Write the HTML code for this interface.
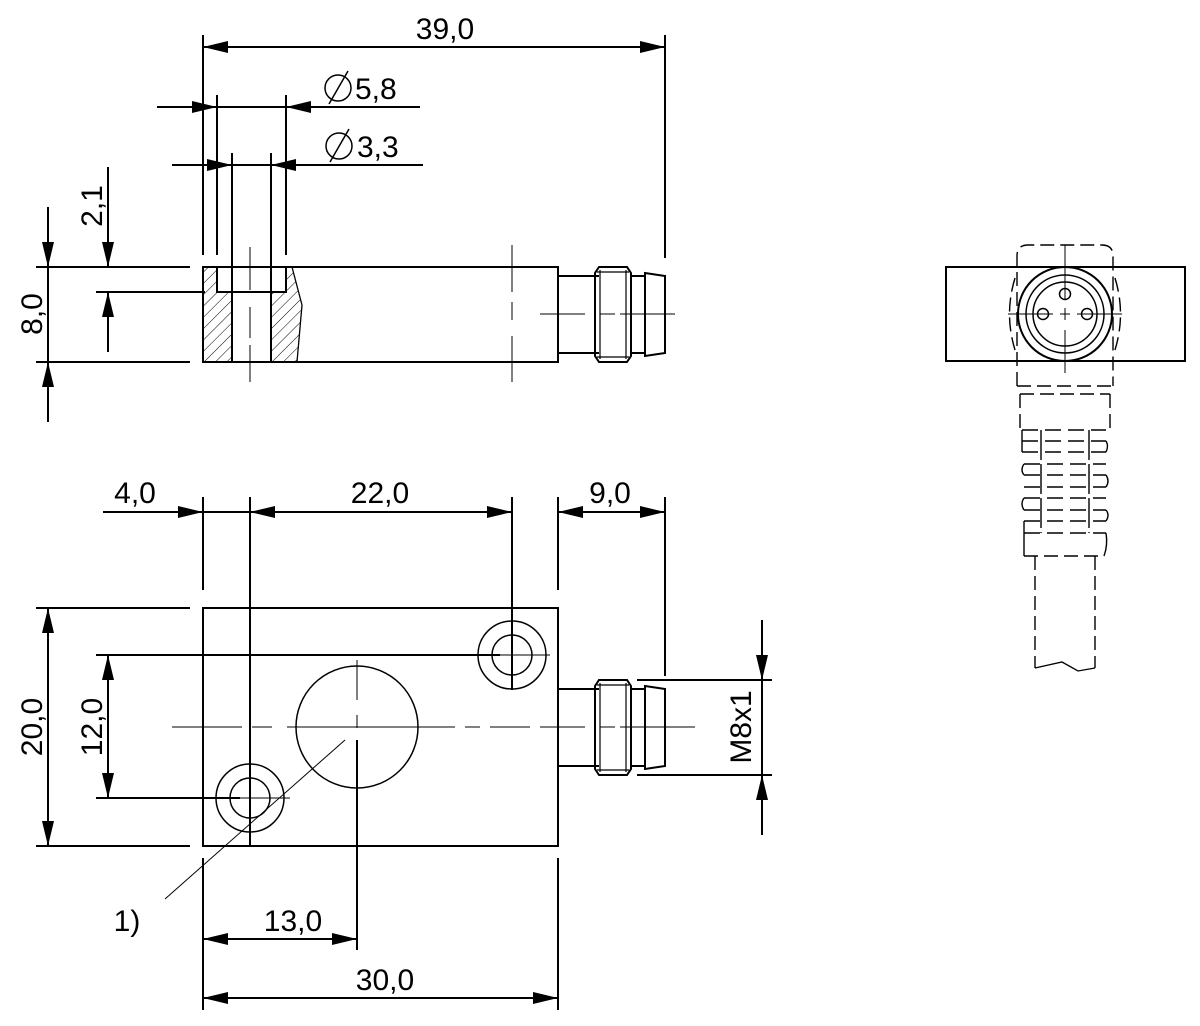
<!DOCTYPE html>
<html><head><meta charset="utf-8"><style>
html,body{margin:0;padding:0;background:#fff;}
svg{display:block;}
text{font-family:"Liberation Sans",Arial,sans-serif;font-size:30px;fill:#000;}
</style></head><body>
<svg width="1200" height="1026" viewBox="0 0 1200 1026" xmlns="http://www.w3.org/2000/svg">
<defs>
<marker id="a" markerUnits="userSpaceOnUse" markerWidth="26" markerHeight="14" refX="25" refY="6" orient="auto-start-reverse">
<path d="M0,0 L25,6 L0,12 z" fill="#000"/></marker>
<pattern id="h" patternUnits="userSpaceOnUse" width="8" height="8" patternTransform="rotate(45)">
<line x1="0" y1="0" x2="0" y2="8" stroke="#000" stroke-width="1"/></pattern>
</defs>
<g stroke="#000" stroke-width="2" fill="none">
<path d="M203,267 L217,267 L217,292 L232,292 L232,362 L203,362 z" fill="url(#h)" stroke="none"/>
<path d="M271,292 L286,292 L286,267 L292,267 L302,305 L297,362 L271,362 z" fill="url(#h)" stroke="none"/>
<rect x="203" y="267" width="355" height="95"/>
<path d="M217,267 V292 H286 V267"/>
<line x1="232" y1="292" x2="232" y2="362"/>
<line x1="271" y1="292" x2="271" y2="362"/>
<path d="M292,267 L302,305 L297,362" stroke-width="1.3"/>
<path d="M558,276 H599 M558,353 H599"/>
<path d="M599,267 H627 L631,273 V356 L627,362 H599 L595,356 V273 z"/>
<line x1="600" y1="270" x2="600" y2="359" stroke-width="1.2"/>
<line x1="626" y1="270" x2="626" y2="359" stroke-width="1.2"/>
<line x1="597" y1="272" x2="629" y2="272" stroke-width="1.2"/>
<line x1="597" y1="357" x2="629" y2="357" stroke-width="1.2"/>
<path d="M631,276 H645 M631,353 H645"/>
<path d="M645,273 L665,276 V353 L645,356 z"/>
<g stroke-width="1">
<path d="M250,247 V290 M250,307 V338 M250,345 V382"/>
<path d="M512,245 V292 M512,302 V320 M512,336 V382"/>
<path d="M540,314 H585 M600,314 H615 M620,314 H675"/>
</g>
<line x1="203" y1="35" x2="203" y2="255"/>
<line x1="665" y1="35" x2="665" y2="258"/>
<line x1="203" y1="47" x2="665" y2="47" marker-start="url(#a)" marker-end="url(#a)"/>
<line x1="217" y1="95" x2="217" y2="255"/>
<line x1="286" y1="95" x2="286" y2="255"/>
<line x1="157" y1="107" x2="217" y2="107" marker-end="url(#a)"/>
<line x1="217" y1="107" x2="286" y2="107"/>
<line x1="420" y1="107" x2="286" y2="107" marker-end="url(#a)"/>
<line x1="232" y1="153" x2="232" y2="292"/>
<line x1="271" y1="153" x2="271" y2="292"/>
<line x1="172" y1="165" x2="232" y2="165" marker-end="url(#a)"/>
<line x1="232" y1="165" x2="271" y2="165"/>
<line x1="423" y1="165" x2="271" y2="165" marker-end="url(#a)"/>
<line x1="36" y1="267" x2="190" y2="267"/>
<line x1="96" y1="292" x2="205" y2="292"/>
<line x1="36" y1="362" x2="190" y2="362"/>
<line x1="108" y1="167" x2="108" y2="267" marker-end="url(#a)"/>
<line x1="108" y1="352" x2="108" y2="292" marker-end="url(#a)"/>
<line x1="48" y1="207" x2="48" y2="267" marker-end="url(#a)"/>
<line x1="48" y1="267" x2="48" y2="362"/>
<line x1="48" y1="422" x2="48" y2="362" marker-end="url(#a)"/>
<circle cx="338" cy="88" r="13" stroke-width="1.5"/>
<line x1="329" y1="104" x2="348" y2="71" stroke-width="1.5"/>
<circle cx="339" cy="146" r="13" stroke-width="1.5"/>
<line x1="330" y1="162" x2="349" y2="129" stroke-width="1.5"/>

<rect x="203" y="608" width="355" height="238"/>
<circle cx="250" cy="798" r="34" stroke-width="1.5"/>
<circle cx="250" cy="798" r="20" stroke-width="1.5"/>
<circle cx="512" cy="655" r="34" stroke-width="1.5"/>
<circle cx="512" cy="655" r="20" stroke-width="1.5"/>
<circle cx="357" cy="727" r="61" stroke-width="1.5"/>
<g stroke-width="1">
<path d="M172,727 H242 M252,727 H272 M287,727 H455 M465,727 H480 M490,727 H530"/>
<path d="M357,660 V700 M357,715 V728"/>
<path d="M250,765 V835 M215,798 H290"/>
<path d="M512,620 V690 M477,655 H550"/>
<path d="M345,740 L165,899"/>
<path d="M540,727 H585 M600,727 H615 M620,727 H695"/>
</g>
<path d="M558,689 H599 M558,766 H599"/>
<path d="M599,680 H627 L631,686 V769 L627,775 H599 L595,769 V686 z"/>
<line x1="600" y1="683" x2="600" y2="772" stroke-width="1.2"/>
<line x1="626" y1="683" x2="626" y2="772" stroke-width="1.2"/>
<line x1="597" y1="685" x2="629" y2="685" stroke-width="1.2"/>
<line x1="597" y1="770" x2="629" y2="770" stroke-width="1.2"/>
<path d="M631,689 H645 M631,766 H645"/>
<path d="M645,686 L665,689 V766 L645,769 z"/>
<line x1="203" y1="497" x2="203" y2="590"/>
<line x1="250" y1="497" x2="250" y2="846"/>
<line x1="512" y1="497" x2="512" y2="690"/>
<line x1="558" y1="497" x2="558" y2="590"/>
<line x1="665" y1="497" x2="665" y2="676"/>
<line x1="103" y1="512" x2="203" y2="512" marker-end="url(#a)"/>
<line x1="203" y1="512" x2="250" y2="512"/>
<line x1="250" y1="512" x2="512" y2="512" marker-start="url(#a)" marker-end="url(#a)"/>
<line x1="558" y1="512" x2="665" y2="512" marker-start="url(#a)" marker-end="url(#a)"/>
<line x1="36" y1="608" x2="190" y2="608"/>
<line x1="36" y1="846" x2="190" y2="846"/>
<line x1="96" y1="655" x2="500" y2="655"/>
<line x1="96" y1="798" x2="240" y2="798"/>
<line x1="48" y1="608" x2="48" y2="846" marker-start="url(#a)" marker-end="url(#a)"/>
<line x1="108" y1="655" x2="108" y2="798" marker-start="url(#a)" marker-end="url(#a)"/>
<line x1="203" y1="858" x2="203" y2="1010"/>
<line x1="558" y1="858" x2="558" y2="1010"/>
<line x1="357" y1="740" x2="357" y2="950"/>
<line x1="203" y1="939" x2="357" y2="939" marker-start="url(#a)" marker-end="url(#a)"/>
<line x1="203" y1="998" x2="558" y2="998" marker-start="url(#a)" marker-end="url(#a)"/>
<line x1="637" y1="680" x2="772" y2="680"/>
<line x1="637" y1="775" x2="772" y2="775"/>
<line x1="762" y1="620" x2="762" y2="680" marker-end="url(#a)"/>
<line x1="762" y1="680" x2="762" y2="775"/>
<line x1="762" y1="835" x2="762" y2="775" marker-end="url(#a)"/>

<rect x="946" y="267" width="239" height="94"/>
<circle cx="1065" cy="314" r="47"/>
<circle cx="1065" cy="314" r="39" stroke-width="1.5"/>
<circle cx="1065" cy="314" r="32" stroke-width="1.5"/>
<circle cx="1065" cy="294" r="5.5" stroke-width="1.5"/>
<circle cx="1043" cy="314" r="5.5" stroke-width="1.5"/>
<circle cx="1087" cy="314" r="5.5" stroke-width="1.5"/>
<g stroke-width="1">
<path d="M1065,245 V300 M1065,308 V320 M1065,330 V373"/>
<path d="M1008,314 H1053 M1060,314 H1070 M1077,314 H1122"/>
</g>
<g stroke-width="1.4" stroke-dasharray="14,6">
<path d="M1017,386 V256 Q1017,245 1028,245 H1102 Q1113,245 1113,256 V386"/>
<path d="M1015,278 Q1004,314 1015,350 M1115,278 Q1126,314 1115,350"/>
<path d="M1017,386 H1113 M1020,394 H1110"/>
<path d="M1020,394 V430 M1110,394 V430"/>
<path d="M1024,556 H1100"/>
<path d="M1035,556 V668 M1095,556 V668"/>
</g>
<g stroke-width="1.4" stroke-dasharray="16,7">
<path d="M1022,430 H1106 M1022,441 H1106 M1022,452 H1106 M1024,464 H1106 M1024,475 H1106 M1024,487 H1106 M1024,498 H1106 M1024,510 H1106 M1024,521 H1106 M1024,533 H1106"/>
</g>
<g stroke-width="1.4">
<path d="M1022,430 V452 M1106,441 Q1109,446 1106,452"/>
<path d="M1024,464 Q1020,470 1024,475 M1106,475 Q1110,481 1106,487"/>
<path d="M1024,498 Q1020,504 1024,510 M1106,510 Q1110,515 1106,521"/>
<path d="M1024,521 V533 M1106,533 Q1108,545 1104,556 M1024,533 V556"/>
<path d="M1041,430 V533 M1089,430 V533" stroke-dasharray="30,4"/>
</g>
<path d="M1035,668 L1062,662 L1078,671 L1095,668" stroke-width="1.3"/>
</g>
<text x="445" y="39" text-anchor="middle">39,0</text>
<text x="355" y="99">5,8</text>
<text x="357" y="157">3,3</text>
<text transform="translate(102,206) rotate(-90)" text-anchor="middle">2,1</text>
<text transform="translate(42,314) rotate(-90)" text-anchor="middle">8,0</text>
<text x="135" y="503" text-anchor="middle">4,0</text>
<text x="380" y="503" text-anchor="middle">22,0</text>
<text x="610" y="503" text-anchor="middle">9,0</text>
<text transform="translate(42,727) rotate(-90)" text-anchor="middle">20,0</text>
<text transform="translate(102,727) rotate(-90)" text-anchor="middle">12,0</text>
<text transform="translate(751,727) rotate(-90)" text-anchor="middle">M8x1</text>
<text x="127" y="931" text-anchor="middle">1)</text>
<text x="293" y="931" text-anchor="middle">13,0</text>
<text x="385" y="990" text-anchor="middle">30,0</text>
</svg>
</body></html>
